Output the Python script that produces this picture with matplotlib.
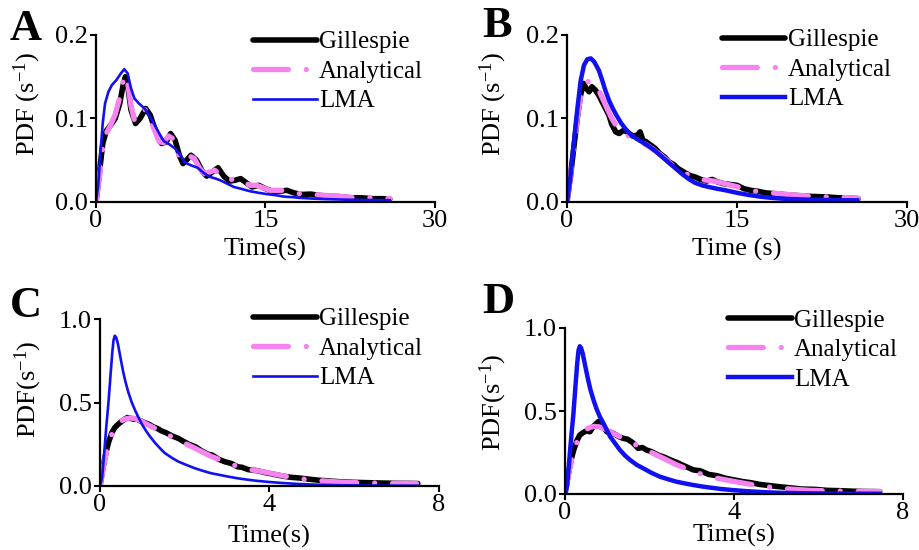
import matplotlib
matplotlib.use("Agg")
import matplotlib.pyplot as plt

plt.rcParams['font.family'] = ['Liberation Serif', 'DejaVu Serif']
plt.rcParams['mathtext.fontset'] = 'custom'
plt.rcParams['mathtext.rm'] = 'Liberation Serif'
plt.rcParams['mathtext.it'] = 'Liberation Serif:italic'
plt.rcParams['mathtext.bf'] = 'Liberation Serif:bold'

# ---------------- Panel A ----------------
a_t_gil = [0, 0.3, 0.6, 0.9, 1.3, 1.7, 2.1, 2.4, 2.6, 2.8, 3.1, 3.5, 3.9, 4.4, 4.8, 5.2, 5.8, 6.2, 6.6, 7.0,
           7.4, 7.7, 8.0, 8.4, 8.9, 9.4, 9.8, 10.3, 10.8, 11.3, 11.8, 12.3, 12.8, 13.3, 13.8, 14.4, 15.0, 15.6,
           16.3, 16.9, 17.5, 18.2, 19.0, 19.7, 20.5, 21.5, 22.5, 23.5, 24.5, 25.3, 26.0]
a_y_gil = [0, 0.035, 0.07, 0.085, 0.092, 0.100, 0.118, 0.140, 0.150, 0.140, 0.110, 0.094, 0.100, 0.112, 0.104,
           0.088, 0.070, 0.072, 0.082, 0.074, 0.055, 0.046, 0.050, 0.056, 0.050, 0.037, 0.031, 0.036, 0.041,
           0.031, 0.025, 0.026, 0.028, 0.023, 0.018, 0.020, 0.016, 0.013, 0.013, 0.014, 0.011, 0.009, 0.0095,
           0.008, 0.007, 0.0065, 0.005, 0.005, 0.004, 0.004, 0.0035]
a_t_ana = [0, 0.3, 0.6, 0.9, 1.3, 1.7, 2.1, 2.4, 2.6, 2.8, 3.1, 3.4, 3.8, 4.2, 4.6, 5.0, 5.6, 6.0, 6.4, 6.8,
           7.2, 7.5, 7.9, 8.3, 8.7, 9.2, 9.6, 10.1, 10.5, 11.0, 11.6, 12.1, 12.6, 13.1, 13.6, 14.2, 14.8, 15.4,
           16.0, 16.6, 17.2, 17.9, 18.6, 19.3, 20.2, 21.2, 22.2, 23.2, 24.2, 25.2, 26.0]
a_y_ana = [0, 0.03, 0.065, 0.082, 0.092, 0.105, 0.125, 0.145, 0.152, 0.143, 0.115, 0.098, 0.102, 0.112, 0.108,
           0.092, 0.072, 0.071, 0.079, 0.076, 0.060, 0.050, 0.050, 0.055, 0.052, 0.040, 0.034, 0.036, 0.038,
           0.033, 0.027, 0.027, 0.028, 0.024, 0.020, 0.020, 0.017, 0.014, 0.014, 0.014, 0.012, 0.010, 0.010,
           0.009, 0.008, 0.007, 0.006, 0.005, 0.005, 0.0045, 0.004]
a_t_lma = [0, 0.2, 0.4, 0.6, 0.8, 1.1, 1.4, 1.8, 2.2, 2.5, 2.8, 3.1, 3.4, 3.8, 4.3, 4.8, 5.2, 5.6, 6.0, 6.5,
           7.0, 7.4, 7.9, 8.4, 9.0, 9.6, 10.1, 10.6, 11.0, 11.6, 12.2, 12.8, 13.6, 14.4, 15.1, 16.0, 16.6, 17.4,
           18.0, 19.0, 20.0, 21.0, 22.0, 23.0, 24.0, 25.0, 26.0]
a_y_lma = [0, 0.02, 0.06, 0.095, 0.118, 0.132, 0.140, 0.146, 0.154, 0.159, 0.154, 0.136, 0.124, 0.118, 0.112,
           0.102, 0.092, 0.082, 0.073, 0.069, 0.064, 0.057, 0.047, 0.044, 0.041, 0.034, 0.030, 0.028, 0.026,
           0.022, 0.018, 0.016, 0.013, 0.011, 0.0095, 0.008, 0.0065, 0.0058, 0.005, 0.0042, 0.0036, 0.0032,
           0.0028, 0.0026, 0.0024, 0.0023, 0.0022]

# ---------------- Panel B ----------------
b_t_gil = [0, 0.3, 0.6, 0.9, 1.2, 1.45, 1.7, 1.95, 2.2, 2.5, 2.8, 3.1, 3.4, 3.7, 3.95, 4.3, 4.6, 5.0, 5.4, 5.8,
           6.2, 6.45, 6.7, 7.0, 7.4, 7.8, 8.2, 8.6, 9.0, 9.4, 9.8, 10.3, 10.8, 11.3, 11.8, 12.3, 12.8, 13.3,
           13.8, 14.4, 15.0, 15.6, 16.2, 16.8, 17.5, 18.3, 19.1, 20.0, 21.0, 22.0, 23.0, 24.0, 25.0, 25.7]
b_y_gil = [0, 0.03, 0.065, 0.10, 0.128, 0.142, 0.136, 0.132, 0.138, 0.134, 0.128, 0.120, 0.112, 0.104, 0.093,
           0.084, 0.082, 0.086, 0.083, 0.079, 0.080, 0.084, 0.074, 0.072, 0.068, 0.064, 0.058, 0.054, 0.048,
           0.045, 0.040, 0.036, 0.032, 0.030, 0.027, 0.025, 0.027, 0.024, 0.022, 0.021, 0.020, 0.016, 0.014,
           0.013, 0.011, 0.010, 0.009, 0.008, 0.007, 0.0065, 0.006, 0.005, 0.0045, 0.004]
b_t_ana = [0, 0.3, 0.6, 0.9, 1.2, 1.5, 1.8, 2.1, 2.4, 2.8, 3.2, 3.6, 4.0, 4.4, 4.8, 5.3, 5.8, 6.3, 6.8, 7.3,
           7.8, 8.3, 8.8, 9.3, 9.8, 10.3, 10.8, 11.3, 11.8, 12.4, 13.0, 13.6, 14.2, 14.8, 15.4, 16.0, 16.6,
           17.2, 18.0, 19.0, 20.0, 21.0, 22.0, 23.0, 24.0, 25.0, 25.7]
b_y_ana = [0, 0.03, 0.065, 0.10, 0.126, 0.139, 0.144, 0.145, 0.142, 0.134, 0.122, 0.110, 0.099, 0.090, 0.084,
           0.080, 0.077, 0.074, 0.070, 0.066, 0.061, 0.056, 0.050, 0.044, 0.039, 0.035, 0.032, 0.029, 0.027,
           0.026, 0.025, 0.023, 0.021, 0.019, 0.017, 0.015, 0.013, 0.012, 0.011, 0.0095, 0.0085, 0.0075,
           0.0065, 0.006, 0.0055, 0.005, 0.0045]
b_t_lma = [0, 0.3, 0.6, 0.9, 1.2, 1.5, 1.8, 2.1, 2.4, 2.8, 3.1, 3.4, 3.7, 4.0, 4.4, 4.8, 5.2, 5.6, 6.1, 6.6,
           7.2, 7.8, 8.4, 9.0, 9.6, 10.2, 10.8, 11.3, 11.9, 12.5, 13.2, 14.0, 15.0, 16.0, 17.0, 18.0, 19.0,
           20.0, 21.0, 22.0, 23.0, 24.0, 25.0, 25.6]
b_y_lma = [0, 0.03, 0.07, 0.11, 0.145, 0.164, 0.171, 0.172, 0.168, 0.158, 0.146, 0.133, 0.122, 0.113, 0.103,
           0.094, 0.087, 0.081, 0.076, 0.072, 0.067, 0.061, 0.054, 0.047, 0.040, 0.033, 0.027, 0.023, 0.020,
           0.018, 0.016, 0.014, 0.011, 0.0085, 0.0065, 0.005, 0.004, 0.0034, 0.003, 0.0026, 0.0023, 0.0021,
           0.002, 0.002]

# ---------------- Panel C ----------------
c_t_gil = [0, 0.05, 0.1, 0.15, 0.2, 0.28, 0.35, 0.43, 0.5, 0.58, 0.65, 0.72, 0.8, 0.88, 0.95, 1.05, 1.15, 1.25,
           1.35, 1.45, 1.55, 1.7, 1.85, 1.95, 2.1, 2.25, 2.4, 2.55, 2.65, 2.8, 2.95, 3.1, 3.25, 3.35, 3.5, 3.7,
           3.9, 4.1, 4.3, 4.5, 4.7, 4.9, 5.1, 5.4, 5.7, 6.0, 6.3, 6.6, 7.0, 7.5]
c_y_gil = [0, 0.08, 0.15, 0.21, 0.26, 0.32, 0.35, 0.37, 0.385, 0.40, 0.41, 0.405, 0.40, 0.40, 0.39, 0.38, 0.37,
           0.355, 0.345, 0.33, 0.32, 0.30, 0.285, 0.27, 0.25, 0.235, 0.21, 0.19, 0.185, 0.16, 0.145, 0.135,
           0.115, 0.112, 0.098, 0.092, 0.08, 0.07, 0.06, 0.052, 0.048, 0.042, 0.036, 0.03, 0.025, 0.022, 0.02,
           0.018, 0.016, 0.015]
c_t_ana = [0, 0.05, 0.1, 0.15, 0.2, 0.28, 0.35, 0.43, 0.52, 0.6, 0.7, 0.8, 0.9, 1.0, 1.14, 1.3, 1.45, 1.65,
           1.85, 2.05, 2.24, 2.45, 2.63, 2.85, 3.03, 3.25, 3.45, 3.7, 3.95, 4.3, 4.64, 5.0, 5.42, 5.8, 6.2, 6.6,
           7.0, 7.47]
c_y_ana = [0, 0.07, 0.14, 0.2, 0.25, 0.31, 0.345, 0.375, 0.392, 0.402, 0.407, 0.405, 0.397, 0.385, 0.365, 0.345,
           0.325, 0.30, 0.275, 0.25, 0.226, 0.2, 0.177, 0.155, 0.136, 0.118, 0.102, 0.092, 0.080, 0.062, 0.046,
           0.036, 0.027, 0.022, 0.019, 0.017, 0.016, 0.015]
c_t_lma = [0, 0.05, 0.1, 0.15, 0.2, 0.25, 0.29, 0.32, 0.35, 0.38, 0.42, 0.46, 0.5, 0.55, 0.6, 0.67, 0.75, 0.83,
           0.9, 1.0, 1.1, 1.2, 1.3, 1.42, 1.53, 1.7, 1.85, 2.05, 2.24, 2.45, 2.63, 2.85, 3.03, 3.25, 3.45, 3.7,
           3.95, 4.3, 4.7, 5.1, 5.6, 6.2, 6.8, 7.5]
c_y_lma = [0, 0.05, 0.2, 0.36, 0.50, 0.67, 0.80, 0.875, 0.90, 0.89, 0.855, 0.80, 0.745, 0.68, 0.625, 0.56, 0.50,
           0.452, 0.415, 0.365, 0.325, 0.29, 0.258, 0.225, 0.197, 0.168, 0.146, 0.125, 0.106, 0.089, 0.076,
           0.065, 0.056, 0.046, 0.039, 0.031, 0.025, 0.018, 0.012, 0.008, 0.005, 0.003, 0.002, 0.0015]

# ---------------- Panel D ----------------
d_t_gil = [0, 0.05, 0.1, 0.15, 0.2, 0.28, 0.35, 0.43, 0.5, 0.59, 0.68, 0.79, 0.88, 0.99, 1.08, 1.18, 1.28, 1.38,
           1.48, 1.6, 1.73, 1.83, 1.93, 2.05, 2.2, 2.35, 2.5, 2.65, 2.8, 3.04, 3.2, 3.4, 3.6, 3.8, 4.0, 4.2, 4.4,
           4.6, 4.8, 5.0, 5.3, 5.6, 5.9, 6.2, 6.5, 6.8, 7.1, 7.45]
d_y_gil = [0, 0.08, 0.15, 0.21, 0.26, 0.32, 0.355, 0.37, 0.38, 0.375, 0.41, 0.436, 0.415, 0.375, 0.372, 0.36,
           0.345, 0.335, 0.33, 0.31, 0.275, 0.28, 0.265, 0.255, 0.235, 0.222, 0.205, 0.19, 0.172, 0.145, 0.14,
           0.118, 0.11, 0.095, 0.085, 0.075, 0.068, 0.058, 0.052, 0.046, 0.038, 0.03, 0.028, 0.022, 0.02, 0.017,
           0.015, 0.014]
d_t_ana = [0, 0.05, 0.1, 0.15, 0.2, 0.28, 0.35, 0.43, 0.52, 0.6, 0.7, 0.8, 0.9, 1.0, 1.14, 1.3, 1.45, 1.65,
           1.85, 2.05, 2.24, 2.45, 2.63, 2.85, 3.03, 3.25, 3.45, 3.7, 3.95, 4.3, 4.64, 5.0, 5.42, 5.8, 6.2, 6.6,
           7.0, 7.45]
d_y_ana = [0, 0.07, 0.14, 0.2, 0.25, 0.31, 0.345, 0.375, 0.392, 0.402, 0.407, 0.405, 0.397, 0.385, 0.365, 0.345,
           0.325, 0.30, 0.275, 0.25, 0.226, 0.2, 0.177, 0.155, 0.136, 0.118, 0.102, 0.090, 0.078, 0.062, 0.048,
           0.037, 0.028, 0.022, 0.019, 0.017, 0.016, 0.015]
d_t_lma = [0, 0.05, 0.1, 0.15, 0.2, 0.25, 0.29, 0.32, 0.35, 0.38, 0.42, 0.46, 0.5, 0.55, 0.6, 0.67, 0.75, 0.83,
           0.91, 1.0, 1.07, 1.2, 1.3, 1.42, 1.54, 1.7, 1.85, 2.05, 2.25, 2.45, 2.64, 2.85, 3.04, 3.25, 3.45, 3.7,
           3.95, 4.3, 4.7, 5.1, 5.6, 6.2, 6.8, 7.45]
d_y_lma = [0, 0.05, 0.2, 0.35, 0.486, 0.66, 0.79, 0.865, 0.89, 0.88, 0.845, 0.795, 0.745, 0.685, 0.63, 0.57,
           0.51, 0.463, 0.426, 0.38, 0.345, 0.30, 0.265, 0.232, 0.205, 0.175, 0.155, 0.127, 0.104, 0.088,
           0.074, 0.063, 0.054, 0.045, 0.038, 0.030, 0.024, 0.017, 0.011, 0.007, 0.0045, 0.003, 0.002, 0.0015]

panels = [
    dict(letter='A', rect=[96, 35, 339, 167], xlim=(0, 30), xticks=[0, 15, 30], ylim=(0, 0.2),
         yticks=[0.0, 0.1, 0.2], yfmt='{:.1f}', xlabel='Time(s)', ylabel='PDF (s$^{-1}$)',
         data=(a_t_gil, a_y_gil, a_t_ana, a_y_ana, a_t_lma, a_y_lma), lma_lw=1.9,
         ylab_xy=(-0.155, 0.585), xlab_y=-0.215, leg_xy=(0.463, 1.024), letter_xy=(10, 40)),
    dict(letter='B', rect=[567, 35, 340, 167], xlim=(0, 30), xticks=[0, 15, 30], ylim=(0, 0.2),
         yticks=[0.0, 0.1, 0.2], yfmt='{:.1f}', xlabel='Time (s)', ylabel='PDF (s$^{-1}$)',
         data=(b_t_gil, b_y_gil, b_t_ana, b_y_ana, b_t_lma, b_y_lma), lma_lw=3.2,
         ylab_xy=(-0.170, 0.585), xlab_y=-0.215, leg_xy=(0.455, 1.036), letter_xy=(482, 37)),
    dict(letter='C', rect=[100, 319, 339, 167], xlim=(0, 8), xticks=[0, 4, 8], ylim=(0, 1.0),
         yticks=[0.0, 0.5, 1.0], yfmt='{:.1f}', xlabel='Time(s)', ylabel='PDF(s$^{-1}$)',
         data=(c_t_gil, c_y_gil, c_t_ana, c_y_ana, c_t_lma, c_y_lma), lma_lw=1.9,
         ylab_xy=(-0.166, 0.58), xlab_y=-0.235, leg_xy=(0.451, 1.066), letter_xy=(10, 317)),
    dict(letter='D', rect=[565, 328, 338, 166], xlim=(0, 8), xticks=[0, 4, 8], ylim=(0, 1.0),
         yticks=[0.0, 0.5, 1.0], yfmt='{:.1f}', xlabel='Time(s)', ylabel='PDF(s$^{-1}$)',
         data=(d_t_gil, d_y_gil, d_t_ana, d_y_ana, d_t_lma, d_y_lma), lma_lw=3.2,
         ylab_xy=(-0.165, 0.55), xlab_y=-0.18, leg_xy=(0.482, 1.114), letter_xy=(482, 313)),
]

W, H = 920, 550
fig = plt.figure(figsize=(W / 100, H / 100), dpi=100)

BLACK = '#000000'
PINK = '#F683F0'
BLUE = '#1010F2'

for p in panels:
    x0, top, w, h = p['rect']
    ax = fig.add_axes([x0 / W, 1 - (top + h) / H, w / W, h / H])
    tg, yg, ta, ya, tl, yl = p['data']
    ax.plot(tg, yg, color=BLACK, lw=4.0, solid_joinstyle='round', solid_capstyle='round',
            label='Gillespie', zorder=2)
    la, = ax.plot(ta, ya, color=PINK, lw=3.8, dash_capstyle='round', label='Analytical', zorder=3)
    la.set_dashes((6.6, 3.4, 0.01, 3.4))
    ax.plot(tl, yl, color=BLUE, lw=p['lma_lw'], solid_joinstyle='round', label='LMA', zorder=4)
    ax.set_xlim(*p['xlim'])
    ax.set_ylim(*p['ylim'])
    ax.set_xticks(p['xticks'])
    ax.set_xticklabels([str(v) for v in p['xticks']])
    ax.set_yticks(p['yticks'])
    ax.set_yticklabels([p['yfmt'].format(v) for v in p['yticks']])
    for s in ['top', 'right']:
        ax.spines[s].set_visible(False)
    for s in ['left', 'bottom']:
        ax.spines[s].set_linewidth(1.6)
    ax.tick_params(direction='out', length=4.5, width=1.5, labelsize=19, pad=1.5)
    ax.set_xlabel(p['xlabel'], fontsize=19)
    ax.set_ylabel(p['ylabel'], fontsize=19)
    ax.yaxis.set_label_coords(*p['ylab_xy'])
    ax.xaxis.set_label_coords(0.5, p['xlab_y'])
    ax.xaxis.label.set_va('top')
    for sp in ax.spines.values():
        sp.set_zorder(5)
    ax.legend(loc='upper left', bbox_to_anchor=p['leg_xy'], frameon=False, fontsize=18,
              handlelength=2.55, handletextpad=0.1, labelspacing=0.28, borderpad=0,
              borderaxespad=0)
    lx, ly = p['letter_xy']
    fig.text(lx / W, 1 - ly / H, p['letter'], fontsize=32, fontweight='bold', va='baseline', ha='left')

fig.savefig('out.png', dpi=100)
